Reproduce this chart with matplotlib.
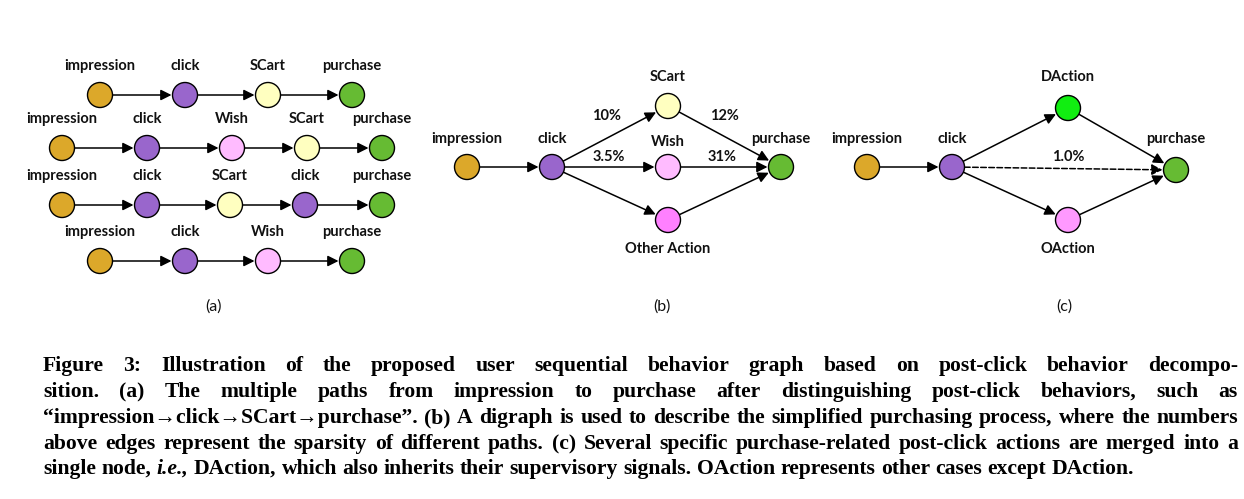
import matplotlib
matplotlib.use("Agg")
import matplotlib.pyplot as plt
from matplotlib.patches import Circle, FancyArrowPatch
import numpy as np

COL = {"impression": "#DCA82A", "click": "#9966CC", "SCart": "#FFFFC0", "Wish": "#FFBBFF",
       "Other Action": "#FF80FF", "purchase": "#66BB33", "DAction": "#11EE11", "OAction": "#FF99FF"}

# (a) paths
paths_a = [["impression", "click", "SCart", "purchase"],
           ["impression", "click", "Wish", "SCart", "purchase"],
           ["impression", "click", "SCart", "click", "purchase"],
           ["impression", "click", "Wish", "purchase"]]
rows_y = [95, 148, 205, 261]
rows_x = [[100, 185, 268, 352], [62, 147, 232, 307, 382], [62, 147, 230, 305, 382], [100, 185, 268, 352]]

# (b) graph
nodes_b = {"impression": (467, 167), "click": (552, 167), "SCart": (668, 106),
           "Wish": (668, 167), "Other Action": (668, 220), "purchase": (781, 167)}
lab_b = {"impression": (467, 139), "click": (552, 139), "SCart": (668, 77),
         "Wish": (668, 142), "Other Action": (668, 249), "purchase": (781, 139)}
edges_b = [("impression", "click"), ("click", "SCart"), ("click", "Wish"), ("click", "Other Action"),
           ("SCart", "purchase"), ("Wish", "purchase"), ("Other Action", "purchase")]
pct_b = [("10%", 607, 116), ("3.5%", 609, 157), ("12%", 724, 116), ("31%", 722, 157)]

# (c) graph
nodes_c = {"impression": (867, 167), "click": (952, 167), "DAction": (1068, 108),
           "OAction": (1068, 220), "purchase": (1176, 170)}
lab_c = {"impression": (867, 139), "click": (952, 139), "DAction": (1068, 77),
         "OAction": (1068, 249), "purchase": (1176, 139)}
edges_c = [("impression", "click", "-"), ("click", "DAction", "-"), ("click", "OAction", "-"),
           ("DAction", "purchase", "-"), ("OAction", "purchase", "-"), ("click", "purchase", "--")]
pct_c = [("1.0%", 1068, 157)]

caption = [
    [("Figure 3: Illustration of the proposed user sequential behavior graph based on post-click behavior decompo-", "normal")],
    [("sition. (a) The multiple paths from impression to purchase after distinguishing post-click behaviors, such as", "normal")],
    [("“impression→click→SCart→purchase”. (b) A digraph is used to describe the simplified purchasing process, where the numbers", "normal")],
    [("above edges represent the sparsity of different paths. (c) Several specific purchase-related post-click actions are merged into a", "normal")],
    [("single node,", "normal"), ("i.e.,", "italic"), ("DAction, which also inherits their supervisory signals. OAction represents other cases except DAction.", "normal")],
]

fig = plt.figure(figsize=(12.44, 4.99), dpi=100)
ax = fig.add_axes([0, 0, 1, 1])
ax.set_xlim(0, 1244); ax.set_ylim(499, 0); ax.axis("off")
R = 12.5
LF = dict(fontsize=10.5, fontfamily="Lato", fontweight="bold", ha="center", va="center", color="#111111")

def node(x, y, name):
    ax.add_patch(Circle((x, y), R, fc=COL[name], ec="black", lw=1.0, zorder=3))

def arrow(p1, p2, ls="-"):
    p1 = np.array(p1, float); p2 = np.array(p2, float)
    u = (p2 - p1) / np.linalg.norm(p2 - p1)
    a = p1 + u * R; b = p2 - u * (R + 1)
    ax.add_patch(FancyArrowPatch(a, b, arrowstyle="-|>", mutation_scale=16, lw=1.1,
                                 color="black", linestyle=ls, shrinkA=0, shrinkB=0, zorder=2))

for path, y, xs in zip(paths_a, rows_y, rows_x):
    for i, (n, x) in enumerate(zip(path, xs)):
        node(x, y, n)
        ax.text(x, y - 29, n, **LF)
        if i:
            arrow((xs[i - 1], y), (x, y))

for n, p in nodes_b.items():
    node(*p, n); ax.text(*lab_b[n], n, **LF)
for a, b in edges_b:
    arrow(nodes_b[a], nodes_b[b])
for t, x, y in pct_b:
    ax.text(x, y, t, **LF)

for n, p in nodes_c.items():
    node(*p, n); ax.text(*lab_c[n], n, **LF)
for a, b, ls in edges_c:
    arrow(nodes_c[a], nodes_c[b], "--" if ls == "--" else "-")
for t, x, y in pct_c:
    ax.text(x, y, t, **LF)

for t, x in [("(a)", 213), ("(b)", 662), ("(c)", 1064)]:
    ax.text(x, 307, t, fontsize=11.5, fontfamily="Lato", ha="center", va="center", color="#111111")

# justified caption
fig.canvas.draw()
rend = fig.canvas.get_renderer()
CF = dict(fontsize=15.6, fontfamily=["Liberation Serif", "DejaVu Serif"], fontweight="bold",
          va="baseline", color="black")
x0, x1 = 43, 1238
ys = [371, 397, 423, 449, 474]
for li, (line, yb) in enumerate(zip(caption, ys)):
    words = []
    for seg, st in line:
        for w in seg.split(" "):
            words.append((w, st))
    widths = []
    for w, st in words:
        t = ax.text(0, 0, w, fontstyle=st, **CF)
        bb = t.get_window_extent(rend); widths.append(bb.width); t.remove()
    sp = ax.text(0, 0, "a a", **CF); sw = sp.get_window_extent(rend).width
    sp.remove()
    a1 = ax.text(0, 0, "aa", **CF); sw -= a1.get_window_extent(rend).width; a1.remove()
    if li < len(caption) - 1:
        gap = max((x1 - x0 - sum(widths)) / (len(words) - 1), 2)
    else:
        gap = sw
    x = x0
    for (w, st), wd in zip(words, widths):
        ax.text(x, yb, w, fontstyle=st, ha="left", **CF)
        x += wd + gap

fig.savefig("out.png", dpi=100)
